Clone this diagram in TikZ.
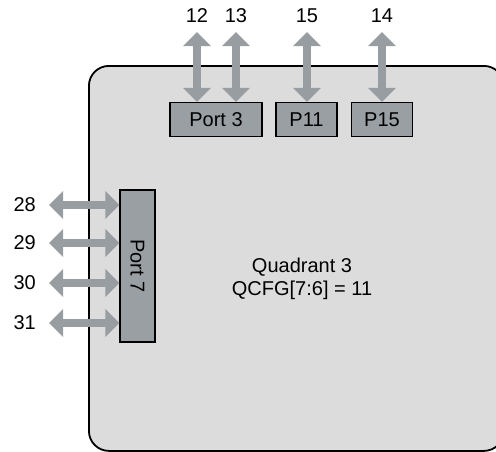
\documentclass[tikz,border=0pt]{standalone}
\usepackage{fontspec}
\setmainfont{Liberation Sans}
\usetikzlibrary{arrows.meta,positioning}
\definecolor{quadfill}{HTML}{DCDCDC}
\definecolor{portfill}{HTML}{9A9FA3}
\definecolor{busgray}{HTML}{989DA1}
\begin{document}
\begin{tikzpicture}[
    x=1pt, y=-1pt,
    font=\fontsize{20}{23}\selectfont,
    quad/.style={draw=black, line width=1.8pt, fill=quadfill, rounded corners=20pt},
    port/.style={draw=black, line width=1.3pt, fill=portfill, inner sep=0pt},
    bus/.style={draw=busgray, line width=8pt,
      {Triangle[width=27pt, length=14pt]}-{Triangle[width=27pt, length=14pt]}},
    num/.style={inner sep=0pt},
  ]

  % Quadrant outline runs off the right and bottom edges.
  \useasboundingbox (0,0) rectangle (496,451);
  \begin{scope}
    \clip (0,0) rectangle (496,451);
    \node[quad, minimum width=415pt, minimum height=385pt, anchor=north west]
      (quad) at (88,65) {};
  \end{scope}
  \node[align=center] (qtext) at (302,279) {Quadrant 3\\QCFG[7:6] = 11};

  % Ports along the top edge and the left side.
  \node[port, minimum width=92pt, minimum height=34pt] (port3) at (216,119.5) {Port 3};
  \node[port, minimum width=61pt, minimum height=34pt] (p11) at (306.5,119.5) {P11};
  \node[port, minimum width=61pt, minimum height=34pt] (p15) at (382,119.5) {P15};
  \node[port, minimum width=35pt, minimum height=152pt] (port7) at (137.5,266)
    {\rotatebox{-90}{Port 7}};

  % Pins above the top ports.
  \coordinate (e12) at (197,32);
  \coordinate (e13) at (236,32);
  \coordinate (e15) at (307,32);
  \coordinate (e14) at (382,32);
  \node[num, above=9pt of e12] (n12) {12};
  \node[num, above=9pt of e13] (n13) {13};
  \node[num, above=9pt of e15] (n15) {15};
  \node[num, above=9pt of e14] (n14) {14};
  \draw[bus] (e12) -- (e12 |- port3.north);
  \draw[bus] (e13) -- (e13 |- port3.north);
  \draw[bus] (e15) -- (e15 |- p11.north);
  \draw[bus] (e14) -- (e14 |- p15.north);

  % Pins left of Port 7.
  \foreach \pin/\yy in {28/205, 29/243, 30/283, 31/323} {
    \coordinate (w\pin) at (49,\yy);
    \node[num, left=13pt of w\pin] (n\pin) {\pin};
    \draw[bus] (w\pin) -- (w\pin -| port7.west);
  }
\end{tikzpicture}
\end{document}
